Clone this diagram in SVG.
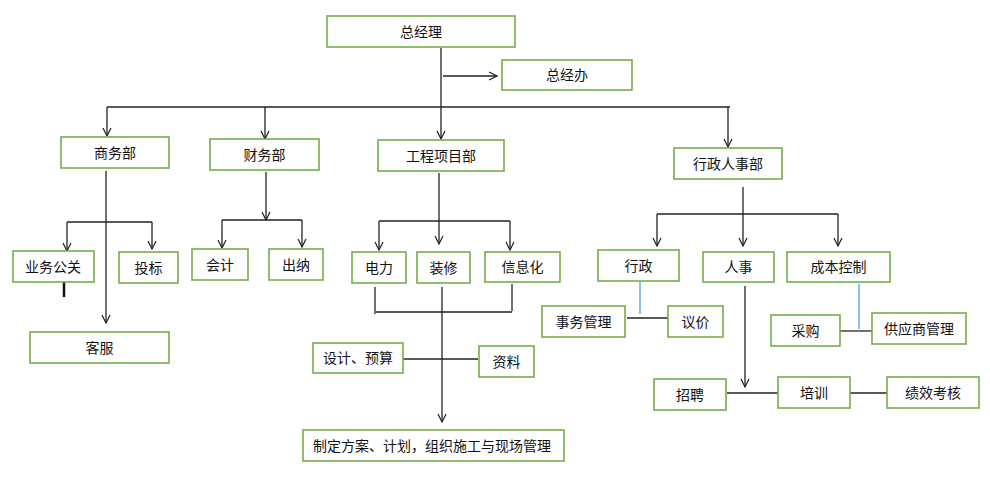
<svg xmlns="http://www.w3.org/2000/svg" width="990" height="481" viewBox="0 0 990 481">
<style>
.b{fill:#fff;stroke:#72ae4a;stroke-width:1.6}
.t{font-family:"Noto Sans CJK SC","Noto Sans CJK JP",sans-serif;font-size:14px;fill:#111;text-anchor:middle}
.c{fill:none;stroke:#222;stroke-width:1.3}
.bl{fill:none;stroke:#5b9bd5;stroke-width:1.3}
</style>
<defs>
<marker id="a" viewBox="0 0 10 10" refX="9" refY="5" markerWidth="10" markerHeight="10" markerUnits="userSpaceOnUse" orient="auto">
<path d="M1,1 L9,5 L1,9" fill="none" stroke="#222" stroke-width="1.2"/>
</marker>
</defs>
<rect width="990" height="481" fill="#fff"/>
<g id="connectors">
<path class="c" d="M441,48 V139" marker-end="url(#a)"/>
<path class="c" d="M443,76 H497" marker-end="url(#a)"/>
<path class="c" d="M107,107 H730"/>
<path class="c" d="M107,107 V136" marker-end="url(#a)"/>
<path class="c" d="M265,107 V139" marker-end="url(#a)"/>
<path class="c" d="M728,107 V147" marker-end="url(#a)"/>
<path class="c" d="M106,171 V323" marker-end="url(#a)"/>
<path class="c" d="M67,222 H152"/>
<path class="c" d="M67,222 V251" marker-end="url(#a)"/>
<path class="c" d="M152,222 V249" marker-end="url(#a)"/>
<path d="M64,282 V297" stroke="#111" stroke-width="2.5"/>
<path class="c" d="M266,172 V220" marker-end="url(#a)"/>
<path class="c" d="M222,220 H302"/>
<path class="c" d="M222,220 V248" marker-end="url(#a)"/>
<path class="c" d="M302,220 V247" marker-end="url(#a)"/>
<path class="c" d="M439,173 V244" marker-end="url(#a)"/>
<path class="c" d="M379,221 H510"/>
<path class="c" d="M379,221 V250" marker-end="url(#a)"/>
<path class="c" d="M510,221 V250" marker-end="url(#a)"/>
<path class="c" d="M375,287 V314"/>
<path class="c" d="M512,284 V311"/>
<path class="c" d="M376,312 H512"/>
<path class="c" d="M442,287 V422" marker-end="url(#a)"/>
<path class="c" d="M403,359 H478"/>
<path class="c" d="M743,187 V246" marker-end="url(#a)"/>
<path class="c" d="M657,214 H838"/>
<path class="c" d="M657,214 V246" marker-end="url(#a)"/>
<path class="c" d="M838,214 V246" marker-end="url(#a)"/>
<path class="bl" d="M640,282 V314"/>
<path class="c" d="M627,318 H668"/>
<path class="c" d="M745,286 V387" marker-end="url(#a)"/>
<path class="c" d="M727,393 H778"/>
<path class="c" d="M850,393 H887" stroke="#555"/>
<path class="bl" d="M859,284 V329"/>
<path class="c" d="M840,331 H872"/>
</g>
<g id="n1"><rect class="b" x="327" y="16" width="188" height="31"/><text class="t" x="421" y="36.5">总经理</text></g>
<g id="n2"><rect class="b" x="502" y="60" width="130" height="30"/><text class="t" x="567" y="80">总经办</text></g>
<g id="n3"><rect class="b" x="61" y="137" width="108" height="31"/><text class="t" x="115" y="157.5">商务部</text></g>
<g id="n4"><rect class="b" x="210" y="139" width="109" height="31"/><text class="t" x="264.5" y="159.5">财务部</text></g>
<g id="n5"><rect class="b" x="378" y="140" width="126" height="31"/><text class="t" x="441" y="160.5">工程项目部</text></g>
<g id="n6"><rect class="b" x="674" y="148" width="108" height="31"/><text class="t" x="728" y="168.5">行政人事部</text></g>
<g id="n7"><rect class="b" x="13" y="251" width="81" height="31"/><text class="t" x="53" y="271.5">业务公关</text></g>
<g id="n8"><rect class="b" x="119" y="252" width="59" height="31"/><text class="t" x="148.5" y="272.5">投标</text></g>
<g id="n9"><rect class="b" x="30" y="332" width="139" height="31"/><text class="t" x="99.5" y="352.5">客服</text></g>
<g id="n10"><rect class="b" x="192" y="249" width="56" height="31"/><text class="t" x="220" y="269.5">会计</text></g>
<g id="n11"><rect class="b" x="269" y="249" width="54" height="31"/><text class="t" x="296" y="269.5">出纳</text></g>
<g id="n12"><rect class="b" x="352" y="252" width="54" height="31"/><text class="t" x="379" y="272.5">电力</text></g>
<g id="n13"><rect class="b" x="417" y="252" width="53" height="31"/><text class="t" x="443.5" y="272.5">装修</text></g>
<g id="n14"><rect class="b" x="485" y="252" width="75" height="30"/><text class="t" x="522.5" y="272">信息化</text></g>
<g id="n15"><rect class="b" x="313" y="343" width="90" height="30"/><text class="t" x="358" y="363">设计、预算</text></g>
<g id="n16"><rect class="b" x="479" y="346" width="55" height="31"/><text class="t" x="506.5" y="366.5">资料</text></g>
<g id="n17"><rect class="b" x="303" y="430" width="261" height="31"/><text class="t" x="432" y="450.5">制定方案、计划，组织施工与现场管理</text></g>
<g id="n18"><rect class="b" x="598" y="250" width="81" height="31"/><text class="t" x="638.5" y="270.5">行政</text></g>
<g id="n19"><rect class="b" x="703" y="252" width="71" height="30"/><text class="t" x="738.5" y="272">人事</text></g>
<g id="n20"><rect class="b" x="787" y="252" width="103" height="30"/><text class="t" x="838.5" y="272">成本控制</text></g>
<g id="n21"><rect class="b" x="542" y="306" width="83" height="31"/><text class="t" x="583.5" y="326.5">事务管理</text></g>
<g id="n22"><rect class="b" x="668" y="306" width="55" height="31"/><text class="t" x="695.5" y="326.5">议价</text></g>
<g id="n23"><rect class="b" x="654" y="379" width="72" height="31"/><text class="t" x="690" y="399.5">招聘</text></g>
<g id="n24"><rect class="b" x="778" y="377" width="72" height="31"/><text class="t" x="814" y="397.5">培训</text></g>
<g id="n25"><rect class="b" x="887" y="377" width="92" height="31"/><text class="t" x="933" y="397.5">绩效考核</text></g>
<g id="n26"><rect class="b" x="771" y="315" width="69" height="31"/><text class="t" x="805.5" y="335.5">采购</text></g>
<g id="n27"><rect class="b" x="872" y="313" width="94" height="31"/><text class="t" x="919" y="333.5">供应商管理</text></g>
</svg>
